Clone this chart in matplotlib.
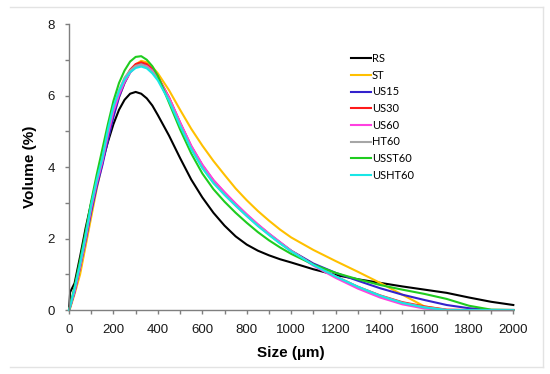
import matplotlib.pyplot as plt
from matplotlib.lines import Line2D
from matplotlib.ticker import MultipleLocator

plt.rcParams['font.family'] = ['Liberation Sans', 'DejaVu Sans']

size = [0, 5, 25, 50, 75, 100, 125, 150, 175, 200, 225, 250, 275, 300, 325, 350, 375, 400,
        450, 500, 550, 600, 650, 700, 750, 800, 850, 900, 950, 1000, 1100, 1200, 1300, 1400,
        1500, 1600, 1700, 1800, 1900, 2000]

rs = [0, 0.5, 0.75, 1.5, 2.3, 3.0, 3.6, 4.15, 4.7, 5.2, 5.6, 5.88, 6.05, 6.1, 6.05, 5.92, 5.72, 5.45,
      4.88, 4.25, 3.65, 3.15, 2.72, 2.36, 2.06, 1.83, 1.66, 1.53, 1.42, 1.33, 1.14, 0.98, 0.86, 0.76,
      0.66, 0.57, 0.48, 0.35, 0.23, 0.14]
st = [0, 0.05, 0.45, 1.0, 1.8, 2.6, 3.4, 4.1, 4.8, 5.45, 5.95, 6.35, 6.65, 6.87, 6.97, 6.93, 6.8, 6.62,
      6.15, 5.6, 5.07, 4.6, 4.17, 3.78, 3.4, 3.07, 2.77, 2.5, 2.25, 2.03, 1.68, 1.37, 1.07, 0.76,
      0.43, 0.1, 0, 0, 0, 0]
us15 = [0, 0.08, 0.5, 1.2, 1.95, 2.75, 3.45, 4.05, 4.75, 5.4, 5.95, 6.35, 6.65, 6.83, 6.88, 6.83, 6.7, 6.5,
        5.93, 5.22, 4.57, 4.04, 3.61, 3.27, 2.95, 2.65, 2.38, 2.13, 1.89, 1.66, 1.3, 1.04, 0.82, 0.61,
        0.43, 0.28, 0.14, 0.05, 0, 0]
us30 = [0, 0.1, 0.55, 1.25, 2.05, 2.9, 3.6, 4.2, 4.95, 5.62, 6.08, 6.45, 6.72, 6.88, 6.93, 6.88, 6.74, 6.53,
        5.95, 5.24, 4.58, 4.05, 3.62, 3.28, 2.96, 2.66, 2.38, 2.12, 1.88, 1.65, 1.27, 0.94, 0.65, 0.41,
        0.22, 0.1, 0.01, 0, 0, 0]
us60 = [0, 0.09, 0.52, 1.22, 2.0, 2.85, 3.55, 4.15, 4.9, 5.55, 6.02, 6.38, 6.64, 6.8, 6.86, 6.82, 6.7, 6.5,
        5.95, 5.25, 4.6, 4.07, 3.64, 3.3, 2.98, 2.68, 2.4, 2.14, 1.9, 1.66, 1.24, 0.9, 0.6, 0.35,
        0.16, 0.04, 0, 0, 0, 0]
ht60 = [0, 0.1, 0.6, 1.3, 2.1, 2.95, 3.65, 4.25, 5.05, 5.7, 6.15, 6.5, 6.7, 6.83, 6.87, 6.8, 6.66, 6.46,
        5.88, 5.17, 4.52, 3.99, 3.56, 3.23, 2.92, 2.63, 2.36, 2.11, 1.87, 1.65, 1.26, 0.94, 0.65, 0.4,
        0.2, 0.08, 0, 0, 0, 0]
usst60 = [0, 0.12, 0.65, 1.4, 2.2, 3.05, 3.8, 4.5, 5.2, 5.85, 6.35, 6.7, 6.95, 7.08, 7.1, 7.0, 6.82, 6.55,
          5.8, 5.05, 4.38, 3.82, 3.38, 3.03, 2.72, 2.44, 2.18, 1.95, 1.75, 1.57, 1.27, 1.04, 0.86, 0.7,
          0.57, 0.45, 0.31, 0.12, 0.01, 0]
usht60 = [0, 0.1, 0.6, 1.3, 2.1, 2.95, 3.65, 4.25, 5.05, 5.7, 6.12, 6.45, 6.65, 6.77, 6.81, 6.76, 6.62, 6.42,
          5.85, 5.15, 4.5, 3.97, 3.55, 3.22, 2.92, 2.63, 2.35, 2.1, 1.86, 1.64, 1.26, 0.94, 0.65, 0.4,
          0.2, 0.07, 0, 0, 0, 0]

series = [('RS', rs, '#000000'), ('ST', st, '#FFC000'), ('US15', us15, '#3322CC'),
          ('US30', us30, '#FF1A1A'), ('US60', us60, '#FF40E0'), ('HT60', ht60, '#A6A6A6'),
          ('USST60', usst60, '#1FCC1F'), ('USHT60', usht60, '#19E6E6')]

fig = plt.figure(figsize=(5.5, 3.74), dpi=100)
ax = fig.add_axes([0.1255, 0.1711, 0.8078, 0.7647])

for name, vals, c in series:
    ax.plot(size, vals, c=c, lw=1.5, label=name, clip_on=False)

ax.set_xlim(0, 2000)
ax.set_ylim(0, 8)
ax.xaxis.set_major_locator(MultipleLocator(200))
ax.xaxis.set_minor_locator(MultipleLocator(100))
ax.yaxis.set_major_locator(MultipleLocator(2))
ax.yaxis.set_minor_locator(MultipleLocator(1))
for s in ['top', 'right']:
    ax.spines[s].set_visible(False)
for s in ['left', 'bottom']:
    ax.spines[s].set_color('#7f7f7f')
    ax.spines[s].set_linewidth(1.0)
ax.tick_params(which='both', direction='out', length=3, width=1.0, color='#7f7f7f')
ax.tick_params(which='major', labelsize=9.5, pad=7, labelcolor='#1a1a1a')

ax.set_xlabel('Size (µm)', fontsize=11, fontweight='bold', labelpad=7)
ax.set_ylabel('Volume (%)', fontsize=11, fontweight='bold', labelpad=8)

leg = ax.legend(loc='upper left', bbox_to_anchor=(0.6376, 0.858), bbox_transform=fig.transFigure,
                frameon=False, borderpad=0, borderaxespad=0, handlelength=1.8, handletextpad=0.1,
                labelspacing=0.51, prop={'family': 'Lato', 'size': 8})

# light frame round the picture
fc = '#e3e3e3'
fig.add_artist(Line2D([10 / 550, 543 / 550], [1 - 7 / 374, 1 - 7 / 374], color=fc, lw=1))
fig.add_artist(Line2D([10 / 550, 543 / 550], [1 - 367 / 374, 1 - 367 / 374], color=fc, lw=1))
fig.add_artist(Line2D([543 / 550, 543 / 550], [1 - 7 / 374, 1 - 367 / 374], color=fc, lw=1))

plt.savefig('out.png', dpi=100)
